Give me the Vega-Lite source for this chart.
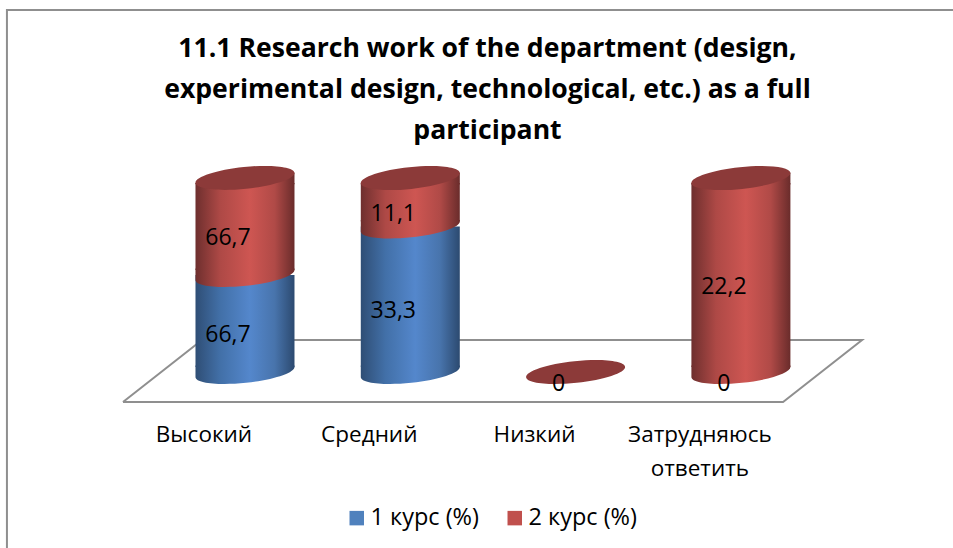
{
"$schema":"https://vega.github.io/schema/vega-lite/v6.json",
"width":953,"height":548,"padding":0,"autosize":{"type":"none"},
"background":"white",
"view":{"stroke":null},
"config":{"view":{"stroke":null}},
"title":{"text":["11.1 Research work of the department (design,","experimental design, technological, etc.) as a full","participant"],"font":"Open Sans","fontSize":26.6,"fontWeight":"bold","color":"#000000","anchor":"middle","frame":"group","baseline":"top","lineHeight":41,"offset":-145,"dx":11},
"datasets":{
"main":[
{"category":"Высокий","idx":0,"series":"1 курс (%)","value":66.7,"label":"66,7"},
{"category":"Высокий","idx":0,"series":"2 курс (%)","value":66.7,"label":"66,7"},
{"category":"Средний","idx":1,"series":"1 курс (%)","value":100,"label":"33,3"},
{"category":"Средний","idx":1,"series":"2 курс (%)","value":33.3,"label":"11,1"},
{"category":"Низкий","idx":2,"series":"1 курс (%)","value":0,"label":"0"},
{"category":"Низкий","idx":2,"series":"2 курс (%)","value":0,"label":""},
{"category":"Затрудняюсь\nответить","idx":3,"series":"1 курс (%)","value":0,"label":"0"},
{"category":"Затрудняюсь\nответить","idx":3,"series":"2 курс (%)","value":133.3,"label":"22,2"}
],
"lines":[
{"part":"frame","step":1,"px":-1.44,"py":-121},
{"part":"frame","step":2,"px":-1.44,"py":248.8},
{"part":"frame","step":3,"px":4.29,"py":248.8},
{"part":"floor","step":1,"px":-0.738,"py":-20.6},
{"part":"floor","step":2,"px":3.255,"py":-20.6},
{"part":"floor","step":3,"px":3.733,"py":22},
{"part":"floor","step":4,"px":-0.26,"py":22},
{"part":"floor","step":5,"px":-0.738,"py":-20.6}
]},
"data":{"name":"main"},
"transform":[
{"stack":"value","groupby":["idx"],"sort":[{"field":"series","order":"ascending"}],"as":["y0","y1"]},
{"calculate":"(datum.y0+datum.y1)/2","as":"mid"}
],
"encoding":{
"x":{"field":"idx","type":"quantitative","scale":{"domain":[-1.482,4.283],"nice":false,"zero":false,"padding":0},"axis":null},
"y":{"field":"y1","type":"quantitative","scale":{"domain":[-120.96,255.67],"nice":false,"zero":false},"axis":null}
},
"layer":[
{"data":{"name":"lines"},"mark":{"type":"line","color":"#8F8F8F","strokeWidth":2,"clip":true},
 "encoding":{"x":{"field":"px","type":"quantitative"},"y":{"field":"py","type":"quantitative"},"detail":{"field":"part"},"order":{"field":"step","type":"quantitative"}}},
{"mark":{"type":"square","opacity":0,"size":1},
 "encoding":{"color":{"field":"series","type":"nominal","scale":{"domain":["1 курс (%)","2 курс (%)"],"range":["#4F81BD","#C0504D"]},
 "legend":{"title":null,"orient":"none","legendX":345,"legendY":506,"direction":"horizontal","symbolType":"square","symbolSize":210,"symbolOpacity":1,"labelFont":"Open Sans","labelFontSize":23.5,"labelOffset":2,"labelColor":"#000000","columnPadding":24,"labelLimit":200,"symbolStrokeWidth":0}}}},
{"transform":[{"filter":"datum.series=='1 курс (%)' && datum.value>0"}],
 "mark":{"type":"point","filled":true,"opacity":1,"strokeWidth":0,"size":9801,"shape":"M-1,-0.13L-1,0.105A1.005,0.22,-6,0,0,1,-0.105L1,-0.13Z","fill":{"gradient":"linear","x1":0,"x2":1,"y1":0,"y2":0,"stops":[{"offset":0,"color":"#2F4E75"},{"offset":0.25,"color":"#4270A8"},{"offset":0.55,"color":"#5487CC"},{"offset":0.8,"color":"#4874AC"},{"offset":1,"color":"#2C4A70"}]}},
 "encoding":{"y":{"field":"y0","type":"quantitative"}}},
{"transform":[{"filter":"datum.series=='1 курс (%)' && datum.value>0"}],
 "mark":{"type":"bar","orient":"vertical","size":99,"y2Offset":-5,"fill":{"gradient":"linear","x1":0,"x2":1,"y1":0,"y2":0,"stops":[{"offset":0,"color":"#2F4E75"},{"offset":0.25,"color":"#4270A8"},{"offset":0.55,"color":"#5487CC"},{"offset":0.8,"color":"#4874AC"},{"offset":1,"color":"#2C4A70"}]}},
 "encoding":{"y2":{"field":"y0"}}},
{"transform":[{"filter":"datum.series=='2 курс (%)' && datum.value>0"}],
 "mark":{"type":"point","filled":true,"opacity":1,"strokeWidth":0,"size":9801,"shape":"M-1,-0.13L-1,0.105A1.005,0.22,-6,0,0,1,-0.105L1,-0.13Z","fill":{"gradient":"linear","x1":0,"x2":1,"y1":0,"y2":0,"stops":[{"offset":0,"color":"#6E2F2E"},{"offset":0.25,"color":"#AE4946"},{"offset":0.55,"color":"#CE5652"},{"offset":0.8,"color":"#B04A47"},{"offset":1,"color":"#6A2C2B"}]}},
 "encoding":{"y":{"field":"y0","type":"quantitative"}}},
{"transform":[{"filter":"datum.series=='2 курс (%)' && datum.value>0"}],
 "mark":{"type":"bar","orient":"vertical","size":99,"yOffset":5,"y2Offset":-5,"fill":{"gradient":"linear","x1":0,"x2":1,"y1":0,"y2":0,"stops":[{"offset":0,"color":"#6E2F2E"},{"offset":0.25,"color":"#AE4946"},{"offset":0.55,"color":"#CE5652"},{"offset":0.8,"color":"#B04A47"},{"offset":1,"color":"#6A2C2B"}]}},
 "encoding":{"y2":{"field":"y0"}}},
{"transform":[{"filter":"datum.series=='2 курс (%)' && datum.value>0"}],
 "mark":{"type":"point","filled":true,"opacity":1,"strokeWidth":0,"size":9801,"shape":"M-1,0.105L-1,0.13L1,0.13L1,-0.105Z","fill":{"gradient":"linear","x1":0,"x2":1,"y1":0,"y2":0,"stops":[{"offset":0,"color":"#6E2F2E"},{"offset":0.25,"color":"#AE4946"},{"offset":0.55,"color":"#CE5652"},{"offset":0.8,"color":"#B04A47"},{"offset":1,"color":"#6A2C2B"}]}}},
{"transform":[{"filter":"datum.series=='2 курс (%)'"}],
 "mark":{"type":"point","filled":true,"opacity":1,"strokeWidth":0,"size":9801,"color":"#8C3A39","shape":"M-1,0.105A1.005,0.22,-6,1,1,1,-0.105A1.005,0.22,-6,1,1,-1,0.105Z"}},
{"mark":{"type":"text","font":"Open Sans","fontSize":23,"color":"#000000","dx":-17,"dy":12},
 "encoding":{"y":{"field":"mid","type":"quantitative"},"text":{"field":"label"}}},
{"transform":[{"filter":"datum.series=='2 курс (%)'"}],
 "mark":{"type":"text","font":"Open Sans","fontSize":22.5,"color":"#000000","baseline":"middle","lineBreak":"\n","lineHeight":34,"dx":-41},
 "encoding":{"y":{"datum":-43},"text":{"field":"category"}}}
]
}
